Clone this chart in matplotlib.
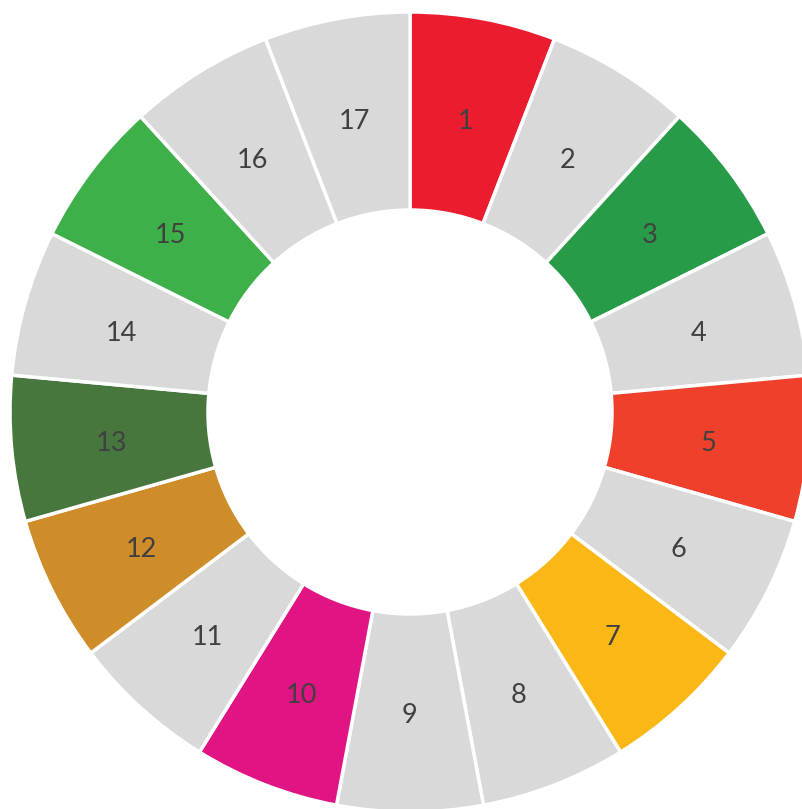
import matplotlib
matplotlib.use("Agg")
import matplotlib.pyplot as plt
import numpy as np

labels = [str(i) for i in range(1, 18)]
values = [1] * 17
highlight = {1: "#EB1C2D", 3: "#279B48", 5: "#EF402B", 7: "#FBB715",
             10: "#E11484", 12: "#CF8D2A", 13: "#48773E", 15: "#3EB049"}
grey = "#D9D9D9"
colors = [highlight.get(i, grey) for i in range(1, 18)]

W, H = 803, 809
cx, cy = 410, 412
R = 400
fig = plt.figure(figsize=(W / 100, H / 100), dpi=100)
ax = fig.add_axes([0, 0, 1, 1])
ax.set_xlim(-cx, W - cx)
ax.set_ylim(-(H - cy), cy)
ax.set_aspect("equal")
ax.axis("off")

wedges, _ = ax.pie(values, colors=colors, startangle=90,
                   counterclock=False, radius=R,
                   wedgeprops=dict(width=R * 0.495, edgecolor="white", linewidth=2.5))
for w, lab in zip(wedges, labels):
    ang = np.deg2rad((w.theta1 + w.theta2) / 2)
    r = R * 0.75
    ax.text(r * np.cos(ang), r * np.sin(ang) - 4, lab, color="#404040", fontsize=19.5,
            family=["Lato", "DejaVu Sans"], ha="center", va="center")
ax.set_xlim(-cx, W - cx)
ax.set_ylim(-(H - cy), cy)
fig.savefig("out.png", dpi=100, facecolor="white")
